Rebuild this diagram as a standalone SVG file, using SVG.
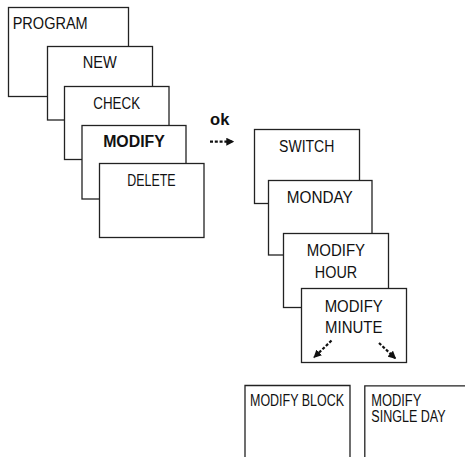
<svg xmlns="http://www.w3.org/2000/svg" width="465" height="457" viewBox="0 0 465 457">
<style>
.box{fill:#fff;stroke:#222;stroke-width:1.3}
.open{fill:none;stroke:#222;stroke-width:1.3}
text{font-family:"Liberation Sans",Arial,sans-serif;font-size:16px;fill:#111}
.c{text-anchor:middle}
.b{font-weight:bold}
.arr{fill:none;stroke:#111;stroke-width:2.2;stroke-dasharray:3 1.8}
</style>
<defs>
<marker id="ah" viewBox="0 0 10 10" refX="9" refY="5" markerWidth="8" markerHeight="8" markerUnits="userSpaceOnUse" orient="auto">
<path d="M0,0L10,5L0,10Z" fill="#111"/>
</marker>
</defs>
<g id="program"><rect class="box" x="8.5" y="7.5" width="120" height="89"/><text x="12.7" y="29" textLength="75" lengthAdjust="spacingAndGlyphs">PROGRAM</text></g>
<g id="new"><rect class="box" x="47.5" y="46.5" width="105" height="73.5"/><text class="c" x="99.8" y="68" textLength="34" lengthAdjust="spacingAndGlyphs">NEW</text></g>
<g id="check"><rect class="box" x="64.5" y="86.5" width="104.5" height="73"/><text class="c" x="116.7" y="109" textLength="46.7" lengthAdjust="spacingAndGlyphs">CHECK</text></g>
<g id="modify"><rect class="box" x="82" y="125.5" width="104" height="73.5"/><text class="c b" x="134" y="147.3" textLength="61.7" lengthAdjust="spacingAndGlyphs">MODIFY</text></g>
<g id="delete"><rect class="box" x="99.5" y="163.5" width="104.5" height="74"/><text class="c" x="151.5" y="186" textLength="48.3" lengthAdjust="spacingAndGlyphs">DELETE</text></g>
<g id="switch"><rect class="box" x="254.5" y="129.5" width="105" height="74"/><text class="c" x="306.7" y="151.7" textLength="55.3" lengthAdjust="spacingAndGlyphs">SWITCH</text></g>
<g id="monday"><rect class="box" x="268.5" y="180.5" width="103.5" height="74.5"/><text class="c" x="319.8" y="202.7" textLength="66" lengthAdjust="spacingAndGlyphs">MONDAY</text></g>
<g id="modify-hour"><rect class="box" x="283.5" y="233.5" width="105" height="74"/><text class="c" x="335.9" y="256" textLength="58.3" lengthAdjust="spacingAndGlyphs">MODIFY</text><text class="c" x="336" y="277.7" textLength="42.3" lengthAdjust="spacingAndGlyphs">HOUR</text></g>
<g id="modify-minute"><rect class="box" x="301.5" y="288.5" width="105" height="74"/><text class="c" x="353.7" y="311.7" textLength="58" lengthAdjust="spacingAndGlyphs">MODIFY</text><text class="c" x="353.7" y="333.3" textLength="57.3" lengthAdjust="spacingAndGlyphs">MINUTE</text></g>
<g id="modify-block"><path class="open" d="M245,457V385.5H350V457"/><text x="250" y="405.7" textLength="94" lengthAdjust="spacingAndGlyphs">MODIFY BLOCK</text></g>
<g id="modify-single-day"><path class="open" d="M364.8,457V385.8H465"/><text x="371.3" y="405.7" textLength="50" lengthAdjust="spacingAndGlyphs">MODIFY</text><text x="371.3" y="422.3" textLength="74.3" lengthAdjust="spacingAndGlyphs">SINGLE DAY</text></g>
<g id="connectors">
<text class="c b" x="219.7" y="125" textLength="19.3" lengthAdjust="spacingAndGlyphs">ok</text>
<path class="arr" d="M210,141.7H233.5" marker-end="url(#ah)"/>
<path class="arr" d="M331.5,340.5L314,357.5" marker-end="url(#ah)"/>
<path class="arr" d="M379,343L395.5,358.5" marker-end="url(#ah)"/>
</g>
</svg>
